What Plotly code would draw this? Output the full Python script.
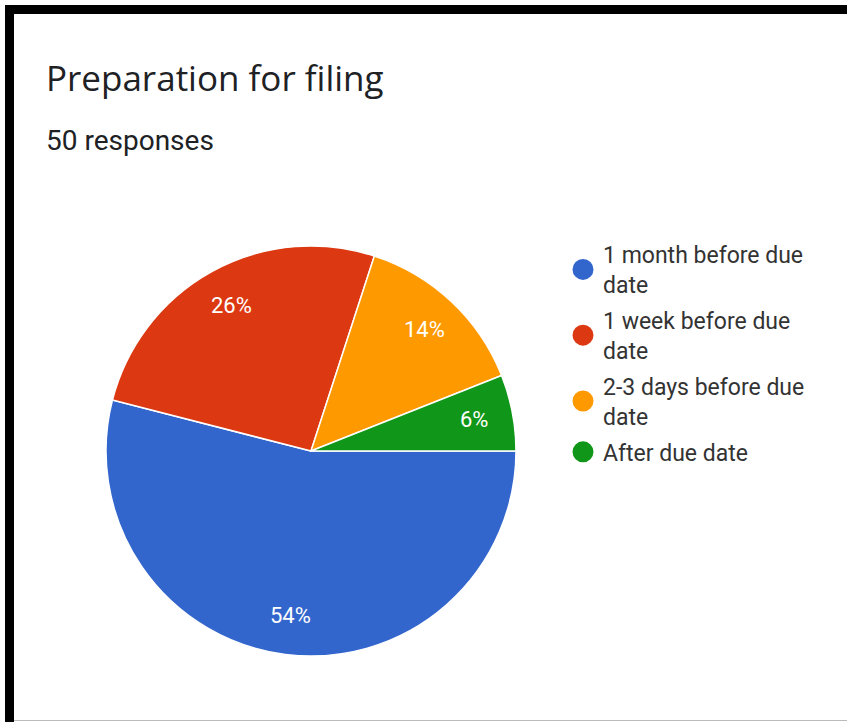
import math
import plotly.graph_objects as go

# Survey results
categories = ["1 month before due date", "1 week before due date",
              "2-3 days before due date", "After due date"]
legend_labels = ["1 month before due<br>date", "1 week before due<br>date",
                 "2-3 days before due<br>date", "After due date"]
percentages = [54, 26, 14, 6]
colors = ["#3366CC", "#DC3912", "#FF9900", "#109618"]
title_text = "Preparation for filing"
subtitle_text = "50 responses"

W, H = 847, 722
cx, cy, r = 311, 451, 205  # pie centre / radius in pixels

fig = go.Figure()

fig.add_trace(go.Pie(
    labels=categories,
    values=percentages,
    marker=dict(colors=colors, line=dict(color="white", width=1.5)),
    sort=False,
    direction="clockwise",
    rotation=90,
    textinfo="none",
    hoverinfo="label+percent",
    showlegend=False,
    domain=dict(x=[(cx - r) / W, (cx + r) / W],
                y=[1 - (cy + r) / H, 1 - (cy - r) / H]),
))

# circular legend markers
for lab, col in zip(legend_labels, colors):
    fig.add_trace(go.Scatter(
        x=[None], y=[None], mode="markers", name=lab, legendgroup=lab,
        marker=dict(symbol="circle", size=16, color=col,
                    line=dict(color=col, width=5)),
    ))

# percentage labels inside each slice, placed along the slice mid-angle
annotations = []
total = sum(percentages)
cum = 0
for p in percentages:
    mid = (cum + p / 2) / total * 2 * math.pi
    cum += p
    px = cx + 0.81 * r * math.cos(mid)
    py = cy + 0.81 * r * math.sin(mid)
    annotations.append(dict(
        x=px / W, y=1 - py / H, xref="paper", yref="paper",
        text=f"{p}%", showarrow=False, xanchor="center", yanchor="middle",
        font=dict(family="Roboto", size=22, color="white"),
    ))

annotations.append(dict(
    x=44 / W, y=1 - 78 / H, xref="paper", yref="paper", text=title_text,
    showarrow=False, xanchor="left", yanchor="middle",
    font=dict(family="Open Sans", size=35, color="#202124"),
))
annotations.append(dict(
    x=44 / W, y=1 - 140 / H, xref="paper", yref="paper", text=subtitle_text,
    showarrow=False, xanchor="left", yanchor="middle",
    font=dict(family="Roboto", size=28, color="#202124"),
))

# frame around the card
shapes = [
    dict(type="rect", xref="paper", yref="paper", x0=5 / W, x1=14 / W,
         y0=0, y1=1 - 5 / H, fillcolor="black", line=dict(width=0)),
    dict(type="rect", xref="paper", yref="paper", x0=5 / W, x1=1,
         y0=1 - 14 / H, y1=1 - 5 / H, fillcolor="black", line=dict(width=0)),
    dict(type="line", xref="paper", yref="paper", x0=14 / W, x1=1,
         y0=1 - 720.5 / H, y1=1 - 720.5 / H, line=dict(color="#bbbbbb", width=1)),
]

fig.update_layout(
    width=W, height=H,
    margin=dict(l=0, r=0, t=0, b=0),
    paper_bgcolor="white", plot_bgcolor="white",
    xaxis=dict(visible=False), yaxis=dict(visible=False),
    annotations=annotations,
    shapes=shapes,
    showlegend=True,
    legend=dict(
        x=563 / W, y=1 - 233 / H, xanchor="left", yanchor="top",
        font=dict(family="Roboto", size=23, color="#333333"),
        tracegroupgap=3, bgcolor="rgba(0,0,0,0)",
    ),
)

fig.write_html("out.html")
